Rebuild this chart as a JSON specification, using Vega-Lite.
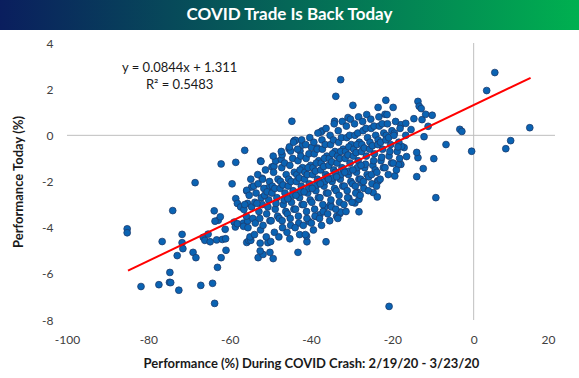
{
  "$schema": "https://vega.github.io/schema/vega-lite/v6.json",
  "padding": 0,
  "background": "white",
  "spacing": 7,
  "config": {
    "view": {"stroke": null},
    "font": "Lato",
    "axis": {"domain": false, "ticks": false, "grid": false, "labelFont": "Lato", "labelFontSize": 12, "labelColor": "#404040", "titleFont": "Lato", "titleFontSize": 13, "titleFontWeight": "bold", "titleColor": "#1a1a1a", "labelExpr": "'' + datum.value"},
    "axisX": {"labelPadding": 14, "titlePadding": 12, "titleX": 311},
    "axisY": {"labelPadding": 14, "titlePadding": 16, "offset": -67}
  },
  "datasets": {
    "pts": [
      {"crash":5.2,"today":2.72},{"crash":3.2,"today":1.94},{"crash":13.8,"today":0.33},{"crash":9.1,"today":-0.23},{"crash":7.9,"today":-0.58},{"crash":-0.5,"today":-0.69},{"crash":-3.4,"today":0.26},{"crash":-2.9,"today":0.17},{"crash":-6.8,"today":-0.4},{"crash":-9.8,"today":-1.01},{"crash":-12.4,"today":-1.44},{"crash":-14.0,"today":-1.79},{"crash":-13.7,"today":-0.97},{"crash":-14.0,"today":-0.74},{"crash":-16.5,"today":-0.92},{"crash":-17.1,"today":-0.53},{"crash":-17.7,"today":-0.48},{"crash":-12.2,"today":-0.06},{"crash":-16.7,"today":0.0},{"crash":-15.4,"today":0.25},{"crash":-11.2,"today":0.39},{"crash":-17.9,"today":0.46},{"crash":-16.7,"today":0.52},{"crash":-14.7,"today":0.72},{"crash":-12.7,"today":0.68},{"crash":-11.8,"today":0.91},{"crash":-10.2,"today":0.87},{"crash":-13.7,"today":1.47},{"crash":-13.4,"today":1.26},{"crash":-12.9,"today":1.16},{"crash":-17.9,"today":-1.26},
      {"crash":-32.7,"today":2.41},{"crash":-33.9,"today":1.69},{"crash":-29.7,"today":1.3},{"crash":-44.7,"today":0.61},{"crash":-34.2,"today":0.61},{"crash":-21.6,"today":1.52},{"crash":-23.5,"today":1.21},{"crash":-19.8,"today":1.21},{"crash":-21.8,"today":0.91},{"crash":-30.9,"today":0.77},{"crash":-52.4,"today":-1.11},{"crash":-52.0,"today":-1.86},{"crash":-37.3,"today":0.19},{"crash":-44.0,"today":-0.22},{"crash":-19.4,"today":-1.76},{"crash":-23.6,"today":-1.97},{"crash":-18.5,"today":-1.27},
      {"crash":-56.3,"today":-0.65},{"crash":-62.1,"today":-1.24},{"crash":-58.5,"today":-1.17},{"crash":-68.5,"today":-2.05},{"crash":-59.4,"today":-2.1},
      {"crash":-74.0,"today":-3.26},{"crash":-85.2,"today":-4.05},{"crash":-85.2,"today":-4.22},{"crash":-76.6,"today":-4.6},{"crash":-71.7,"today":-4.29},{"crash":-71.7,"today":-4.65},{"crash":-71.5,"today":-4.91},{"crash":-72.9,"today":-5.21},{"crash":-69.0,"today":-5.07},{"crash":-68.3,"today":-5.3},{"crash":-74.7,"today":-5.94},{"crash":-74.8,"today":-6.37},{"crash":-74.5,"today":-6.38},{"crash":-77.4,"today":-6.47},{"crash":-81.8,"today":-6.55},{"crash":-72.5,"today":-6.71},{"crash":-67.1,"today":-6.5},{"crash":-64.2,"today":-6.41},{"crash":-63.7,"today":-7.28},{"crash":-63.0,"today":-5.72},{"crash":-62.1,"today":-5.3},{"crash":-60.9,"today":-4.98},{"crash":-66.5,"today":-4.42},{"crash":-66.1,"today":-4.55},{"crash":-65.3,"today":-4.28},{"crash":-64.8,"today":-4.61},{"crash":-63.2,"today":-4.53},{"crash":-61.8,"today":-4.51},{"crash":-61.0,"today":-4.48},{"crash":-61.1,"today":-4.07},{"crash":-63.8,"today":-3.27},{"crash":-62.8,"today":-3.68},{"crash":-62.3,"today":-3.53},{"crash":-63.6,"today":-3.72},{"crash":-58.5,"today":-2.74},{"crash":-58.1,"today":-2.95},{"crash":-57.3,"today":-3.1},{"crash":-56.5,"today":-3.21},{"crash":-55.8,"today":-2.41},{"crash":-55.6,"today":-2.95},{"crash":-58.9,"today":-3.76},{"crash":-58.6,"today":-3.97},{"crash":-58.1,"today":-3.83},{"crash":-56.6,"today":-3.8},{"crash":-56.6,"today":-3.94},{"crash":-55.6,"today":-3.71},{"crash":-55.8,"today":-4.64},{"crash":-55.3,"today":-4.56},
      {"crash":-20.8,"today":-7.41},{"crash":-36.3,"today":-4.61},{"crash":-43.2,"today":-5.07},{"crash":-49.3,"today":-5.34},{"crash":-53.0,"today":-5.3},{"crash":-51.8,"today":-5.16},{"crash":-52.5,"today":-5.01},{"crash":-50.1,"today":-5.07},{"crash":-52.5,"today":-4.67},{"crash":-50.6,"today":-4.65},{"crash":-54.8,"today":-4.55},{"crash":-45.2,"today":-4.48},{"crash":-41.0,"today":-4.61},{"crash":-41.1,"today":-4.36},{"crash":-42.8,"today":-4.3},{"crash":-40.5,"today":-3.73},{"crash":-38.8,"today":-3.51},{"crash":-37.8,"today":-3.44},{"crash":-36.6,"today":-3.11},{"crash":-35.2,"today":-3.0},{"crash":-33.7,"today":-3.51},{"crash":-32.9,"today":-3.39},{"crash":-32.7,"today":-3.32},{"crash":-28.2,"today":-3.31},{"crash":-30.7,"today":-2.72},{"crash":-29.2,"today":-2.93},{"crash":-28.2,"today":-2.77},{"crash":-28.6,"today":-2.46},{"crash":-24.7,"today":-2.48},{"crash":-23.7,"today":-2.67},{"crash":-27.5,"today":-2.07},{"crash":-23.5,"today":-1.99},{"crash":-9.3,"today":-2.7},
      {"crash":-52.3,"today":-1.13},{"crash":-54.6,"today":-2.24},{"crash":-55.8,"today":-2.38},{"crash":-50.6,"today":-2.28},{"crash":-49.6,"today":-1.37},{"crash":-49.1,"today":-1.34},{"crash":-48.7,"today":-1.11},{"crash":-47.3,"today":-1.05},{"crash":-47.1,"today":-0.84},{"crash":-45.4,"today":-0.58},{"crash":-45.0,"today":-0.68},{"crash":-44.2,"today":-0.25},{"crash":-43.8,"today":-0.22},{"crash":-42.7,"today":-0.68},{"crash":-42.1,"today":-0.42},{"crash":-39.9,"today":-0.52},{"crash":-38.4,"today":-0.55},{"crash":-37.6,"today":0.14},
      {"crash":-55.2,"today":-2.6},{"crash":-54.6,"today":-3.1},{"crash":-55.9,"today":-3.5},{"crash":-54.1,"today":-2.2},{"crash":-55.5,"today":-4.0},{"crash":-54.8,"today":-1.9},{"crash":-56.3,"today":-3.0},{"crash":-54.3,"today":-3.6},{"crash":-55.0,"today":-4.4},{"crash":-53.8,"today":-2.9},
      {"crash":-53.5,"today":-2.5},{"crash":-52.8,"today":-3.3},{"crash":-53.1,"today":-1.7},{"crash":-52.4,"today":-4.1},{"crash":-53.7,"today":-3.8},{"crash":-52.2,"today":-2.7},{"crash":-53.0,"today":-2.1},{"crash":-52.6,"today":-3.6},{"crash":-53.9,"today":-4.3},{"crash":-52.0,"today":-3.0},{"crash":-53.3,"today":-2.95},
      {"crash":-51.6,"today":-2.3},{"crash":-50.9,"today":-3.4},{"crash":-51.2,"today":-1.5},{"crash":-50.4,"today":-2.8},{"crash":-51.8,"today":-3.9},{"crash":-50.2,"today":-2.0},{"crash":-51.0,"today":-4.4},{"crash":-50.6,"today":-3.1},{"crash":-51.4,"today":-2.6},{"crash":-50.1,"today":-3.7},{"crash":-51.9,"today":-1.9},{"crash":-50.8,"today":-2.45},
      {"crash":-49.5,"today":-2.2},{"crash":-48.8,"today":-3.2},{"crash":-49.2,"today":-1.6},{"crash":-48.4,"today":-2.7},{"crash":-49.8,"today":-3.7},{"crash":-48.1,"today":-1.9},{"crash":-49.0,"today":-4.2},{"crash":-48.6,"today":-2.95},{"crash":-49.6,"today":-2.5},{"crash":-48.2,"today":-3.5},{"crash":-49.3,"today":-0.9},{"crash":-48.9,"today":-2.3},{"crash":-49.9,"today":-4.6},
      {"crash":-47.5,"today":-2.0},{"crash":-46.8,"today":-3.0},{"crash":-47.2,"today":-1.4},{"crash":-46.4,"today":-2.5},{"crash":-47.8,"today":-3.6},{"crash":-46.1,"today":-1.7},{"crash":-47.0,"today":-4.0},{"crash":-46.6,"today":-2.8},{"crash":-47.6,"today":-2.3},{"crash":-46.2,"today":-3.3},{"crash":-47.3,"today":-0.7},{"crash":-46.9,"today":-2.15},{"crash":-47.9,"today":-4.4},{"crash":-46.5,"today":-1.2},{"crash":-47.1,"today":-3.7},
      {"crash":-45.5,"today":-1.9},{"crash":-44.8,"today":-2.9},{"crash":-45.2,"today":-1.3},{"crash":-44.4,"today":-2.4},{"crash":-45.8,"today":-3.4},{"crash":-44.1,"today":-1.6},{"crash":-45.0,"today":-3.9},{"crash":-44.6,"today":-2.6},{"crash":-45.6,"today":-2.2},{"crash":-44.2,"today":-3.2},{"crash":-45.3,"today":-0.5},{"crash":-44.9,"today":-2.0},{"crash":-45.9,"today":-4.2},{"crash":-44.5,"today":-1.0},{"crash":-45.1,"today":-3.6},{"crash":-44.3,"today":-0.3},{"crash":-45.7,"today":-2.75},
      {"crash":-43.5,"today":-1.7},{"crash":-42.8,"today":-2.7},{"crash":-43.2,"today":-1.1},{"crash":-42.4,"today":-2.2},{"crash":-43.8,"today":-3.2},{"crash":-42.1,"today":-1.4},{"crash":-43.0,"today":-3.8},{"crash":-42.6,"today":-2.45},{"crash":-43.6,"today":-2.0},{"crash":-42.2,"today":-3.0},{"crash":-43.3,"today":-0.6},{"crash":-42.9,"today":-1.85},{"crash":-43.9,"today":-4.0},{"crash":-42.5,"today":-0.9},{"crash":-43.1,"today":-3.5},{"crash":-42.3,"today":-0.2},{"crash":-43.7,"today":-2.6},{"crash":-42.7,"today":-1.5},
      {"crash":-41.5,"today":-1.6},{"crash":-40.8,"today":-2.5},{"crash":-41.2,"today":-1.0},{"crash":-40.4,"today":-2.1},{"crash":-41.8,"today":-3.0},{"crash":-40.1,"today":-1.3},{"crash":-41.0,"today":-3.6},{"crash":-40.6,"today":-2.3},{"crash":-41.6,"today":-1.9},{"crash":-40.2,"today":-2.8},{"crash":-41.3,"today":-0.4},{"crash":-40.9,"today":-1.7},{"crash":-41.9,"today":-3.9},{"crash":-40.5,"today":-0.8},{"crash":-41.1,"today":-3.3},{"crash":-40.3,"today":-0.1},{"crash":-41.7,"today":-2.45},{"crash":-40.7,"today":-1.4},{"crash":-41.4,"today":-4.3},
      {"crash":-39.5,"today":-1.4},{"crash":-38.8,"today":-2.4},{"crash":-39.2,"today":-0.8},{"crash":-38.4,"today":-1.9},{"crash":-39.8,"today":-2.9},{"crash":-38.1,"today":-1.1},{"crash":-39.0,"today":-3.5},{"crash":-38.6,"today":-2.15},{"crash":-39.6,"today":-1.7},{"crash":-38.2,"today":-2.7},{"crash":-39.3,"today":-0.3},{"crash":-38.9,"today":-1.55},{"crash":-39.9,"today":-3.8},{"crash":-38.5,"today":-0.6},{"crash":-39.1,"today":-3.2},{"crash":-38.3,"today":0.1},{"crash":-39.7,"today":-2.3},{"crash":-38.7,"today":-1.2},{"crash":-39.4,"today":-4.1},{"crash":-38.0,"today":-2.0},
      {"crash":-37.5,"today":-1.2},{"crash":-36.8,"today":-2.2},{"crash":-37.2,"today":-0.6},{"crash":-36.4,"today":-1.7},{"crash":-37.8,"today":-2.7},{"crash":-36.1,"today":-0.9},{"crash":-37.0,"today":-3.3},{"crash":-36.6,"today":-2.0},{"crash":-37.6,"today":-1.5},{"crash":-36.2,"today":-2.5},{"crash":-37.3,"today":-0.2},{"crash":-36.9,"today":-1.35},{"crash":-37.9,"today":-3.6},{"crash":-36.5,"today":-0.4},{"crash":-37.1,"today":-3.0},{"crash":-36.3,"today":0.3},{"crash":-37.7,"today":-2.1},{"crash":-36.7,"today":-1.0},{"crash":-37.4,"today":-3.9},{"crash":-36.0,"today":-1.8},
      {"crash":-35.5,"today":-1.0},{"crash":-34.8,"today":-2.0},{"crash":-35.2,"today":-0.4},{"crash":-34.4,"today":-1.5},{"crash":-35.8,"today":-2.5},{"crash":-34.1,"today":-0.7},{"crash":-35.0,"today":-3.1},{"crash":-34.6,"today":-1.85},{"crash":-35.6,"today":-1.3},{"crash":-34.2,"today":-2.3},{"crash":-35.3,"today":0.0},{"crash":-34.9,"today":-1.15},{"crash":-35.9,"today":-3.4},{"crash":-34.5,"today":-0.2},{"crash":-35.1,"today":-2.8},{"crash":-34.3,"today":0.5},{"crash":-35.7,"today":-1.9},{"crash":-34.7,"today":-0.8},{"crash":-35.4,"today":-3.7},{"crash":-34.0,"today":-1.6},
      {"crash":-33.5,"today":-0.9},{"crash":-32.8,"today":-1.9},{"crash":-33.2,"today":-0.3},{"crash":-32.4,"today":-1.4},{"crash":-33.8,"today":-2.4},{"crash":-32.1,"today":-0.6},{"crash":-33.0,"today":-2.9},{"crash":-32.6,"today":-1.7},{"crash":-33.6,"today":-1.2},{"crash":-32.2,"today":-2.2},{"crash":-33.3,"today":0.2},{"crash":-32.9,"today":-1.0},{"crash":-33.9,"today":-3.2},{"crash":-32.5,"today":-0.1},{"crash":-33.1,"today":-2.6},{"crash":-32.3,"today":0.6},{"crash":-33.7,"today":-1.8},{"crash":-32.7,"today":-0.7},{"crash":-33.4,"today":-3.6},{"crash":-32.0,"today":-1.5},
      {"crash":-31.5,"today":-0.7},{"crash":-30.8,"today":-1.7},{"crash":-31.2,"today":-0.1},{"crash":-30.4,"today":-1.2},{"crash":-31.8,"today":-2.2},{"crash":-30.1,"today":-0.4},{"crash":-31.0,"today":-2.7},{"crash":-30.6,"today":-1.55},{"crash":-31.6,"today":-1.0},{"crash":-30.2,"today":-2.0},{"crash":-31.3,"today":0.4},{"crash":-30.9,"today":-0.85},{"crash":-31.9,"today":-3.0},{"crash":-30.5,"today":0.0},{"crash":-31.1,"today":-2.4},{"crash":-30.3,"today":0.7},{"crash":-31.7,"today":-1.6},{"crash":-30.7,"today":-0.5},{"crash":-31.4,"today":-3.3},
      {"crash":-29.5,"today":-0.6},{"crash":-28.8,"today":-1.6},{"crash":-29.2,"today":0.0},{"crash":-28.4,"today":-1.1},{"crash":-29.8,"today":-2.1},{"crash":-28.1,"today":-0.3},{"crash":-29.0,"today":-2.5},{"crash":-28.6,"today":-1.4},{"crash":-29.6,"today":-0.9},{"crash":-28.2,"today":-1.9},{"crash":-29.3,"today":0.5},{"crash":-28.9,"today":-0.75},{"crash":-29.9,"today":-2.9},{"crash":-28.5,"today":0.1},{"crash":-29.1,"today":-2.2},{"crash":-28.3,"today":0.8},{"crash":-29.7,"today":-1.5},{"crash":-28.7,"today":-0.4},
      {"crash":-27.5,"today":-0.4},{"crash":-26.8,"today":-1.4},{"crash":-27.2,"today":0.2},{"crash":-26.4,"today":-0.9},{"crash":-27.8,"today":-1.9},{"crash":-26.1,"today":-0.1},{"crash":-27.0,"today":-2.3},{"crash":-26.6,"today":-1.25},{"crash":-27.6,"today":-0.7},{"crash":-26.2,"today":-1.7},{"crash":-27.3,"today":0.6},{"crash":-26.9,"today":-0.55},{"crash":-27.9,"today":-2.6},{"crash":-26.5,"today":0.3},{"crash":-27.1,"today":-2.0},{"crash":-26.3,"today":0.9},{"crash":-27.7,"today":-1.3},
      {"crash":-25.5,"today":-0.3},{"crash":-24.8,"today":-1.3},{"crash":-25.2,"today":0.3},{"crash":-24.4,"today":-0.8},{"crash":-25.8,"today":-1.8},{"crash":-24.1,"today":0.0},{"crash":-25.0,"today":-2.1},{"crash":-24.6,"today":-1.1},{"crash":-25.6,"today":-0.6},{"crash":-24.2,"today":-1.5},{"crash":-25.3,"today":0.7},{"crash":-24.9,"today":-0.45},{"crash":-25.9,"today":-2.4},{"crash":-24.5,"today":0.4},{"crash":-25.1,"today":-1.7},
      {"crash":-23.5,"today":-0.2},{"crash":-22.8,"today":-1.1},{"crash":-23.2,"today":0.4},{"crash":-22.4,"today":-0.6},{"crash":-23.8,"today":-1.6},{"crash":-22.1,"today":0.1},{"crash":-23.0,"today":-1.9},{"crash":-22.6,"today":-0.95},{"crash":-23.6,"today":-0.4},{"crash":-22.2,"today":-1.4},{"crash":-23.3,"today":0.8},{"crash":-22.9,"today":-0.3},{"crash":-23.9,"today":-2.2},{"crash":-22.5,"today":0.5},
      {"crash":-21.5,"today":0.0},{"crash":-20.8,"today":-0.9},{"crash":-21.2,"today":0.5},{"crash":-20.4,"today":-0.4},{"crash":-21.8,"today":-1.4},{"crash":-20.1,"today":0.2},{"crash":-21.0,"today":-1.7},{"crash":-20.6,"today":-0.7},{"crash":-21.6,"today":-0.2},{"crash":-20.2,"today":-1.2},{"crash":-21.3,"today":0.9},{"crash":-20.9,"today":-0.1},
      {"crash":-19.5,"today":0.1},{"crash":-18.8,"today":-0.7},{"crash":-19.2,"today":0.6},{"crash":-18.4,"today":-0.3},{"crash":-19.8,"today":-1.2},{"crash":-18.1,"today":0.3},{"crash":-19.0,"today":-1.5},{"crash":-18.6,"today":-0.5},{"crash":-19.6,"today":0.0},{"crash":-18.2,"today":-1.0}
    ]
  },
  "vconcat": [
    {
      "width": 579,
      "height": 30,
      "data": {"values": [{"a": 0, "b": 1, "mid": 0.5, "title": "COVID Trade Is Back Today"}]},
      "layer": [
        {
          "mark": {"type": "rect", "fill": {"gradient": "linear", "x1": 0, "y1": 0, "x2": 1, "y2": 0, "stops": [{"offset": 0, "color": "#0a1e5e"}, {"offset": 1, "color": "#00b050"}]}},
          "encoding": {
            "x": {"field": "a", "type": "quantitative", "scale": {"domain": [0, 1], "nice": false}, "axis": null},
            "x2": {"field": "b"},
            "y": {"field": "a", "type": "quantitative", "scale": {"domain": [0, 1], "nice": false}, "axis": null},
            "y2": {"field": "b"}
          }
        },
        {
          "mark": {"type": "text", "color": "white", "fontWeight": "bold", "fontSize": 17, "font": "Lato", "align": "center", "baseline": "middle"},
          "encoding": {
            "text": {"field": "title"},
            "x": {"field": "mid", "type": "quantitative", "scale": {"domain": [0, 1], "nice": false}, "axis": null},
            "y": {"field": "mid", "type": "quantitative", "scale": {"domain": [0, 1], "nice": false}, "axis": null}
          }
        }
      ]
    },
    {
      "width": 555,
      "height": 277,
      "layer": [
        {
          "data": {"values": [{"v": 0, "lo": -100, "hi": 20}]},
          "mark": {"type": "rule", "color": "#bfbfbf", "strokeWidth": 1},
          "encoding": {
            "x": {"field": "lo", "type": "quantitative", "scale": {"domain": [-116.475, 20], "nice": false, "zero": false}, "axis": {"values": [-100, -80, -60, -40, -20, 0, 20], "title": "Performance (%) During COVID Crash: 2/19/20 - 3/23/20"}},
            "x2": {"field": "hi"},
            "y": {"field": "v", "type": "quantitative", "scale": {"domain": [-8, 4], "nice": false, "zero": false}, "axis": {"values": [-8, -6, -4, -2, 0, 2, 4], "title": "Performance Today (%)"}}
          }
        },
        {
          "data": {"values": [{"v": 0}]},
          "mark": {"type": "rule", "color": "#bfbfbf", "strokeWidth": 1},
          "encoding": {
            "x": {"field": "v", "type": "quantitative", "scale": {"domain": [-116.475, 20], "nice": false, "zero": false}, "axis": {"values": [-100, -80, -60, -40, -20, 0, 20], "title": "Performance (%) During COVID Crash: 2/19/20 - 3/23/20"}}
          }
        },
        {
          "data": {"name": "pts"},
          "mark": {"type": "circle", "size": 46, "fill": "#0a63b3", "stroke": "#1d3c6e", "strokeWidth": 0.8, "opacity": 1},
          "encoding": {
            "x": {"field": "crash", "type": "quantitative", "scale": {"domain": [-116.475, 20], "nice": false, "zero": false}, "axis": {"values": [-100, -80, -60, -40, -20, 0, 20], "title": "Performance (%) During COVID Crash: 2/19/20 - 3/23/20"}},
            "y": {"field": "today", "type": "quantitative", "scale": {"domain": [-8, 4], "nice": false, "zero": false}, "axis": {"values": [-8, -6, -4, -2, 0, 2, 4], "title": "Performance Today (%)"}}
          }
        },
        {
          "data": {"values": [{"crash": -85, "today": -5.863}, {"crash": 14, "today": 2.493}]},
          "mark": {"type": "line", "color": "#ff0000", "strokeWidth": 2},
          "encoding": {
            "x": {"field": "crash", "type": "quantitative", "scale": {"domain": [-116.475, 20], "nice": false, "zero": false}, "axis": {"values": [-100, -80, -60, -40, -20, 0, 20], "title": "Performance (%) During COVID Crash: 2/19/20 - 3/23/20"}},
            "y": {"field": "today", "type": "quantitative", "scale": {"domain": [-8, 4], "nice": false, "zero": false}, "axis": {"values": [-8, -6, -4, -2, 0, 2, 4], "title": "Performance Today (%)"}}
          }
        },
        {
          "data": {"values": [{"crash": -72.3, "today": 2.93, "label": "y = 0.0844x + 1.311"}, {"crash": -72.3, "today": 2.17, "label": "R² = 0.5483"}]},
          "mark": {"type": "text", "font": "Lato", "fontSize": 13, "color": "#1a1a1a", "align": "center", "baseline": "middle"},
          "encoding": {
            "text": {"field": "label"},
            "x": {"field": "crash", "type": "quantitative", "scale": {"domain": [-116.475, 20], "nice": false, "zero": false}, "axis": {"values": [-100, -80, -60, -40, -20, 0, 20], "title": "Performance (%) During COVID Crash: 2/19/20 - 3/23/20"}},
            "y": {"field": "today", "type": "quantitative", "scale": {"domain": [-8, 4], "nice": false, "zero": false}, "axis": {"values": [-8, -6, -4, -2, 0, 2, 4], "title": "Performance Today (%)"}}
          }
        }
      ]
    }
  ]
}
